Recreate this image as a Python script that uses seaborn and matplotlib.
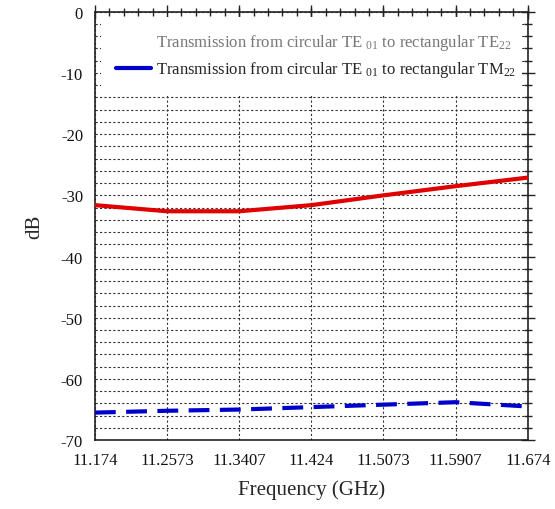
import numpy as np
import pandas as pd
import matplotlib
matplotlib.use("Agg")
import matplotlib.pyplot as plt
import seaborn as sns
from matplotlib.ticker import MultipleLocator, AutoMinorLocator

# Data
freq = [11.174, 11.2573, 11.3407, 11.424, 11.5073, 11.5907, 11.674]
te22 = [-31.6, -32.6, -32.6, -31.6, -30.0, -28.5, -27.1]
tm22 = [-65.5, -65.2, -65.0, -64.6, -64.2, -63.8, -64.5]
xticks = [11.174, 11.2573, 11.3407, 11.424, 11.5073, 11.5907, 11.674]
xtick_labels = ["11.174", "11.2573", "11.3407", "11.424", "11.5073", "11.5907", "11.674"]

lab_te = r"Transmission from circular TE $_{01}$ to rectangular TE$_{22}$"
lab_tm = r"Transmission from circular TE $_{01}$ to rectangular TM$_{22}$"

df = pd.DataFrame({"freq": freq + freq,
                   "dB": te22 + tm22,
                   "series": [lab_te] * len(freq) + [lab_tm] * len(freq)})

sns.set_theme(style="white")
plt.rcParams["font.family"] = ["Liberation Serif", "DejaVu Serif"]
plt.rcParams["mathtext.fontset"] = "custom"
plt.rcParams["mathtext.rm"] = "Liberation Serif"
plt.rcParams["mathtext.default"] = "regular"
plt.rcParams["axes.unicode_minus"] = False

fig = plt.figure(figsize=(5.55, 5.1), dpi=100)
ax = fig.add_axes([0.171, 0.135, 0.78, 0.84])

sns.lineplot(data=df[df.series == lab_te], x="freq", y="dB", color="#e00000",
             linewidth=3, ax=ax, label=lab_te, zorder=5)
sns.lineplot(data=df[df.series == lab_tm], x="freq", y="dB", color="#0000cc",
             linewidth=3, ax=ax, label=lab_tm, zorder=5)
ax.lines[1].set_dashes([5, 2.5])

ax.set_xlim(11.174, 11.674)
ax.set_ylim(-70, 0)
ax.set_xticks(xticks)
ax.set_xticklabels(xtick_labels)
ax.xaxis.set_minor_locator(AutoMinorLocator(5))
ax.yaxis.set_major_locator(MultipleLocator(10))
ax.yaxis.set_minor_locator(MultipleLocator(2))

ax.grid(which="major", axis="x", color="#333333", linestyle=(0, (2, 2)), linewidth=0.8)
ax.grid(which="both", axis="y", color="#333333", linestyle=(0, (2, 2)), linewidth=0.8)

for s in ax.spines.values():
    s.set_color("#222222")
    s.set_linewidth(1.2)

ax.tick_params(which="major", direction="inout", length=10, width=1, color="#222222",
               top=True, right=True, labelsize=12, labelcolor="#111111")
ax.tick_params(which="minor", direction="inout", length=6, width=1, color="#222222",
               top=True, right=True)

ax.set_xlabel("Frequency (GHz)", fontsize=15, labelpad=8)
ax.set_ylabel("dB", fontsize=15, labelpad=12)

leg = ax.legend(loc="upper center", bbox_to_anchor=(0.014, 0.8, 0.972, 0.188), mode="expand",
                frameon=True, fancybox=False, framealpha=1, edgecolor="white",
                fontsize=12, handlelength=2.1, handletextpad=0.3, borderaxespad=0.0,
                borderpad=0.9, labelspacing=0.45)
leg.get_frame().set_linewidth(0)
handles = leg.legend_handles
handles[0].set_visible(False)
handles[1].set_dashes([])
handles[1].set_linestyle("-")
leg.get_texts()[0].set_color("#777777")
leg.set_zorder(10)

fig.savefig("out.png", dpi=100)
